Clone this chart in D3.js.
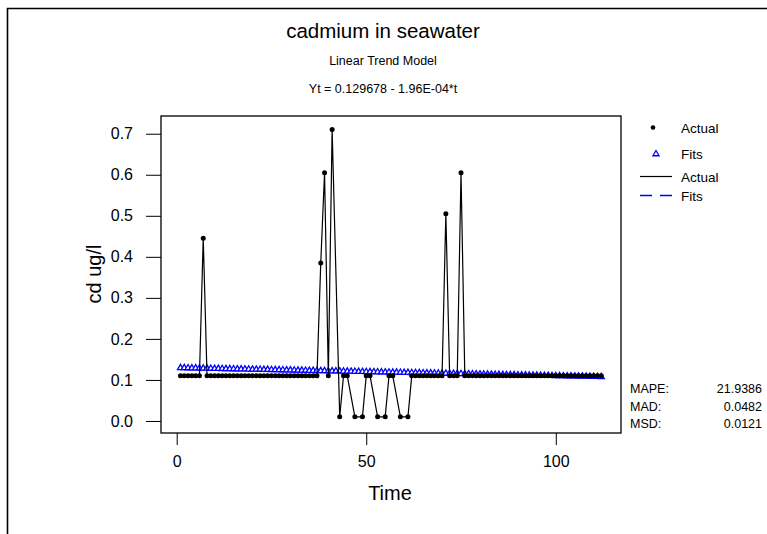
<!DOCTYPE html>
<html>
<head>
<meta charset="utf-8">
<script src="https://cdn.jsdelivr.net/npm/d3@7"></script>
<style>
  html, body { margin: 0; padding: 0; background: #fff; }
  svg { display: block; font-family: "Liberation Sans", Arial, sans-serif; }
</style>
</head>
<body>
<svg id="chart" width="767" height="534"></svg>
<script>
// measured cadmium (ug/l), one value per time step, null where no point is drawn
const actual = [
  0.11, 0.11, 0.11, 0.11, 0.11, 0.11, 0.445, 0.11, 0.11, 0.11,
  0.11, 0.11, 0.11, 0.11, 0.11, 0.11, 0.11, 0.11, 0.11, 0.11,
  0.11, 0.11, 0.11, 0.11, 0.11, 0.11, 0.11, 0.11, 0.11, 0.11,
  0.11, 0.11, 0.11, 0.11, 0.11, 0.11, 0.11, 0.385, 0.605, 0.11,
  0.71, null, 0.01, 0.11, 0.11, null, 0.01, null, 0.01, 0.11,
  0.11, null, 0.01, null, 0.01, 0.11, 0.11, null, 0.01, null,
  0.01, 0.11, 0.11, 0.11, 0.11, 0.11, 0.11, 0.11, 0.11, 0.11,
  0.505, 0.11, 0.11, 0.11, 0.605, 0.11, 0.11, 0.11, 0.11, 0.11,
  0.11, 0.11, 0.11, 0.11, 0.11, 0.11, 0.11, 0.11, 0.11, 0.11,
  0.11, 0.11, 0.11, 0.11, 0.11, 0.11, 0.11, 0.11, 0.11, 0.11,
  0.11, 0.11, 0.11, 0.11, 0.11, 0.11, 0.11, 0.11, 0.11, 0.11,
  0.11, 0.11
];

// trend model fits, Yt = 0.129678 - 1.96E-04*t
const fits = [
  0.1295, 0.1293, 0.1291, 0.1289, 0.1287, 0.1285, 0.1283, 0.1281, 0.1279, 0.1277,
  0.1275, 0.1273, 0.1271, 0.1269, 0.1267, 0.1265, 0.1263, 0.1262, 0.1260, 0.1258,
  0.1256, 0.1254, 0.1252, 0.1250, 0.1248, 0.1246, 0.1244, 0.1242, 0.1240, 0.1238,
  0.1236, 0.1234, 0.1232, 0.1230, 0.1228, 0.1226, 0.1224, 0.1222, 0.1220, 0.1218,
  0.1216, 0.1214, 0.1213, 0.1211, 0.1209, 0.1207, 0.1205, 0.1203, 0.1201, 0.1199,
  0.1197, 0.1195, 0.1193, 0.1191, 0.1189, 0.1187, 0.1185, 0.1183, 0.1181, 0.1179,
  0.1177, 0.1175, 0.1173, 0.1171, 0.1169, 0.1167, 0.1165, 0.1164, 0.1162, 0.1160,
  0.1158, 0.1156, 0.1154, 0.1152, 0.1150, 0.1148, 0.1146, 0.1144, 0.1142, 0.1140,
  0.1138, 0.1136, 0.1134, 0.1132, 0.1130, 0.1128, 0.1126, 0.1124, 0.1122, 0.1120,
  0.1118, 0.1116, 0.1115, 0.1113, 0.1111, 0.1109, 0.1107, 0.1105, 0.1103, 0.1101,
  0.1099, 0.1097, 0.1095, 0.1093, 0.1091, 0.1089, 0.1087, 0.1085, 0.1083, 0.1081,
  0.1079, 0.1077
];

const xTicks = [0, 50, 100];
const yTicks = [0.0, 0.1, 0.2, 0.3, 0.4, 0.5, 0.6, 0.7];
const legendLabels = ["Actual", "Fits", "Actual", "Fits"];
const statLabels = ["MAPE:", "MAD:", "MSD:"];
const statValues = ["21.9386", "0.0482", "0.0121"];

const frame = { left: 161, right: 621, top: 116, bottom: 433 };

const svg = d3.select("#chart");

// outer border (left and top edges only show)
svg.append("path")
  .attr("d", "M7.5,534V8.5H767")
  .attr("fill", "none").attr("stroke", "#000").attr("stroke-width", 1.6);

const x = d3.scaleLinear().domain([-4.14, 117.2]).range([frame.left, frame.right]);
const y = d3.scaleLinear().domain([-0.0293, 0.7432]).range([frame.bottom, frame.top]);

const series = actual.map((v, i) => ({ t: i + 1, v, f: fits[i] }));
const shown = series.filter(d => d.v !== null);

// y axis
const yAxis = svg.append("g").attr("transform", `translate(${frame.left},0)`)
  .call(d3.axisLeft(y).tickValues(yTicks).tickFormat(d3.format(".1f")).tickSize(15).tickPadding(13));
yAxis.select(".domain").remove();
yAxis.selectAll("text").attr("font-size", 16).attr("fill", "#000").attr("font-family", null);
yAxis.selectAll("line").attr("stroke", "#000");

// x axis
const xAxis = svg.append("g").attr("transform", `translate(0,${frame.bottom})`)
  .call(d3.axisBottom(x).tickValues(xTicks).tickSize(12).tickPadding(11));
xAxis.select(".domain").remove();
xAxis.selectAll("text").attr("font-size", 16).attr("fill", "#000").attr("font-family", null);
xAxis.selectAll("line").attr("stroke", "#000");

// fits: dashed line under small open triangles
const tri = d3.symbol().type(d3.symbolTriangle).size(16);

svg.append("path").datum(series)
  .attr("fill", "none").attr("stroke", "#0000ff").attr("stroke-width", 1)
  .attr("stroke-dasharray", "11,7")
  .attr("d", d3.line().x(d => x(d.t)).y(d => y(d.f)));

svg.append("g").selectAll("path").data(series).join("path")
  .attr("transform", d => `translate(${x(d.t)},${y(d.f)})`)
  .attr("d", tri)
  .attr("fill", "#fff").attr("stroke", "#0000ff").attr("stroke-width", 1.3);

// actual: solid line plus dots
svg.append("path").datum(shown)
  .attr("fill", "none").attr("stroke", "#000").attr("stroke-width", 1.2)
  .attr("d", d3.line().x(d => x(d.t)).y(d => y(d.v)));

svg.append("g").selectAll("circle").data(shown).join("circle")
  .attr("cx", d => x(d.t)).attr("cy", d => y(d.v)).attr("r", 2.5)
  .attr("fill", "#000");

// plot frame
svg.append("rect")
  .attr("x", frame.left).attr("y", frame.top)
  .attr("width", frame.right - frame.left).attr("height", frame.bottom - frame.top)
  .attr("fill", "none").attr("stroke", "#000").attr("stroke-width", 1.3);

// titles
svg.append("text").attr("x", 383).attr("y", 38).attr("text-anchor", "middle")
  .attr("font-size", 20.5).text("cadmium in seawater");
svg.append("text").attr("x", 383).attr("y", 65).attr("text-anchor", "middle")
  .attr("font-size", 12.5).text("Linear Trend Model");
svg.append("text").attr("x", 383).attr("y", 93).attr("text-anchor", "middle")
  .attr("font-size", 12.5).text("Yt = 0.129678 - 1.96E-04*t");

svg.append("text").attr("x", 390).attr("y", 500).attr("text-anchor", "middle")
  .attr("font-size", 20).text("Time");
svg.append("text").attr("transform", "translate(101,274) rotate(-90)")
  .attr("text-anchor", "middle").attr("font-size", 20).text("cd ug/l");

// legend
const lg = svg.append("g").attr("font-size", 13.5);
const lgY = [133, 159, 182, 201];
lg.append("circle").attr("cx", 653).attr("cy", 127.5).attr("r", 2.3).attr("fill", "#000");
lg.append("path").attr("transform", "translate(656,154)").attr("d", tri)
  .attr("fill", "#fff").attr("stroke", "#0000ff").attr("stroke-width", 1.3);
lg.append("line").attr("x1", 640).attr("x2", 672).attr("y1", 176.5).attr("y2", 176.5)
  .attr("stroke", "#000").attr("stroke-width", 1.2);
lg.append("line").attr("x1", 640).attr("x2", 672).attr("y1", 195.5).attr("y2", 195.5)
  .attr("stroke", "#0000ff").attr("stroke-width", 1.4).attr("stroke-dasharray", "12,8");
lg.selectAll("text").data(legendLabels).join("text")
  .attr("x", 681).attr("y", (d, i) => lgY[i]).text(d => d);

// accuracy measures
const st = svg.append("g").attr("font-size", 12.5);
st.selectAll("text.lbl").data(statLabels).join("text").attr("class", "lbl")
  .attr("x", 630).attr("y", (d, i) => 393 + i * 17.5).text(d => d);
st.selectAll("text.val").data(statValues).join("text").attr("class", "val")
  .attr("x", 762).attr("y", (d, i) => 393 + i * 17.5).attr("text-anchor", "end").text(d => d);
</script>
</body>
</html>
